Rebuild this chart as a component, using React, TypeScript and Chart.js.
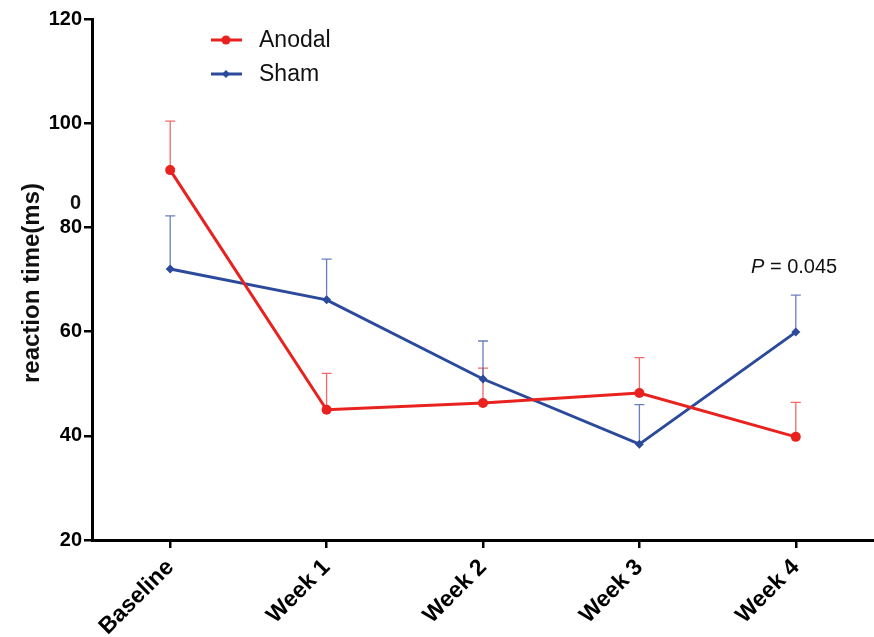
import React, { useEffect, useRef } from "react";
import { Chart, registerables } from "chart.js";

Chart.register(...registerables);

const categories = ["Baseline", "Week 1", "Week 2", "Week 3", "Week 4"];
const anodalMean = [91.0, 45.0, 46.3, 48.2, 39.8];
const anodalUpper = [100.4, 52.0, 53.0, 55.0, 46.4];
const shamMean = [72.0, 66.1, 50.9, 38.4, 59.9];
const shamUpper = [82.2, 73.9, 58.2, 46.0, 67.0];
const yTicks = [20, 40, 60, 80, 100, 120];

const RED = "#e8221e";
const BLUE = "#2c4a9c";
const RED_ERR = "rgba(236,80,78,0.85)";
const BLUE_ERR = "rgba(80,105,180,0.85)";
const FONT = "'Liberation Sans', Arial, sans-serif";

const errorBars = {
  id: "errorBars",
  beforeDatasetsDraw(chart: any) {
    const { ctx } = chart;
    const y = chart.scales.y;
    const sets = [
      { idx: 0, upper: anodalUpper, color: RED_ERR },
      { idx: 1, upper: shamUpper, color: BLUE_ERR },
    ];
    ctx.save();
    sets.forEach((s) => {
      const meta = chart.getDatasetMeta(s.idx);
      meta.data.forEach((pt: any, i: number) => {
        const x = pt.x;
        const y0 = pt.y;
        const y1 = y.getPixelForValue(s.upper[i]);
        ctx.strokeStyle = s.color;
        ctx.lineWidth = 1.3;
        ctx.beginPath();
        ctx.moveTo(x, y0);
        ctx.lineTo(x, y1);
        ctx.moveTo(x - 5, y1);
        ctx.lineTo(x + 5, y1);
        ctx.stroke();
      });
    });
    ctx.restore();
  },
  afterDraw(chart: any) {
    const { ctx } = chart;
    ctx.save();
    const items = [
      { label: "Anodal", color: RED, y: 40, style: "circle" },
      { label: "Sham", color: BLUE, y: 74, style: "diamond" },
    ];
    items.forEach((it) => {
      ctx.strokeStyle = it.color;
      ctx.fillStyle = it.color;
      ctx.lineWidth = 3;
      ctx.beginPath();
      ctx.moveTo(211, it.y);
      ctx.lineTo(242, it.y);
      ctx.stroke();
      ctx.beginPath();
      if (it.style === "circle") {
        ctx.arc(226, it.y, 4.5, 0, Math.PI * 2);
      } else {
        ctx.moveTo(226, it.y - 4);
        ctx.lineTo(230, it.y);
        ctx.lineTo(226, it.y + 4);
        ctx.lineTo(222, it.y);
        ctx.closePath();
      }
      ctx.fill();
      ctx.fillStyle = "#111";
      ctx.font = `23px ${FONT}`;
      ctx.textAlign = "left";
      ctx.textBaseline = "middle";
      ctx.fillText(it.label, 259, it.y + 1);
    });
    ctx.save();
    ctx.translate(32, 283);
    ctx.rotate(-Math.PI / 2);
    ctx.font = `bold 24px ${FONT}`;
    ctx.fillStyle = "#111";
    ctx.textAlign = "center";
    ctx.textBaseline = "middle";
    ctx.fillText("reaction time(ms)", 0, 0);
    ctx.restore();
    ctx.font = `bold 20px ${FONT}`;
    ctx.fillStyle = "#111";
    ctx.textAlign = "right";
    ctx.textBaseline = "middle";
    ctx.fillText("0", 81, 203);
    ctx.textAlign = "left";
    ctx.font = `italic 20px ${FONT}`;
    ctx.fillText("P", 751, 267);
    const pw = ctx.measureText("P").width;
    ctx.font = `20px ${FONT}`;
    ctx.fillText(" = 0.045", 751 + pw, 267);
    ctx.restore();
  },
};

export default function App() {
  const ref = useRef<HTMLCanvasElement>(null);
  useEffect(() => {
    if (!ref.current) return;
    const chart = new Chart(ref.current, {
      type: "line",
      data: {
        labels: categories,
        datasets: [
          {
            label: "Anodal",
            data: anodalMean,
            borderColor: RED,
            backgroundColor: RED,
            borderWidth: 3,
            pointStyle: "circle",
            pointRadius: 5,
            pointBackgroundColor: RED,
            pointBorderWidth: 0,
            tension: 0,
          },
          {
            label: "Sham",
            data: shamMean,
            borderColor: BLUE,
            backgroundColor: BLUE,
            borderWidth: 3,
            pointStyle: "rectRot",
            pointRadius: 4.5,
            pointBackgroundColor: BLUE,
            pointBorderWidth: 0,
            tension: 0,
          },
        ],
      },
      plugins: [errorBars],
      options: {
        animation: false,
        responsive: false,
        layout: { autoPadding: false, padding: { left: 0, right: 0, top: 19, bottom: 0 } },
        plugins: { legend: { display: false }, tooltip: { enabled: false } },
        scales: {
          x: {
            type: "category",
            offset: true,
            grid: {
              drawOnChartArea: false,
              drawTicks: true,
              tickLength: 8,
              color: "#000",
              lineWidth: 2.5,
            },
            border: { display: true, color: "#000", width: 3 },
            ticks: {
              color: "#000",
              font: { family: FONT, size: 23, weight: "bold" },
              maxRotation: 45,
              minRotation: 45,
              padding: 6,
            },
            afterFit: (s: any) => {
              s.height = 97;
              s.paddingRight = 0;
              s.paddingLeft = 0;
            },
          },
          y: {
            min: 20,
            max: 120,
            afterBuildTicks: (s: any) => {
              s.ticks = yTicks.map((v) => ({ value: v }));
            },
            grid: {
              drawOnChartArea: false,
              drawTicks: true,
              tickLength: 8,
              color: "#000",
              lineWidth: 2.5,
            },
            border: { display: true, color: "#000", width: 3 },
            ticks: {
              color: "#000",
              font: { family: FONT, size: 20, weight: "bold" },
              padding: 2,
            },
            afterFit: (s: any) => {
              s.width = 92;
              s.paddingTop = 0;
              s.paddingBottom = 0;
            },
          },
        },
      },
    });
    return () => chart.destroy();
  }, []);
  return (
    <div style={{ position: "fixed", left: 0, top: 0, width: 874, height: 637, background: "#fff" }}>
      <canvas ref={ref} width={874} height={637} style={{ width: 874, height: 637 }} />
    </div>
  );
}
